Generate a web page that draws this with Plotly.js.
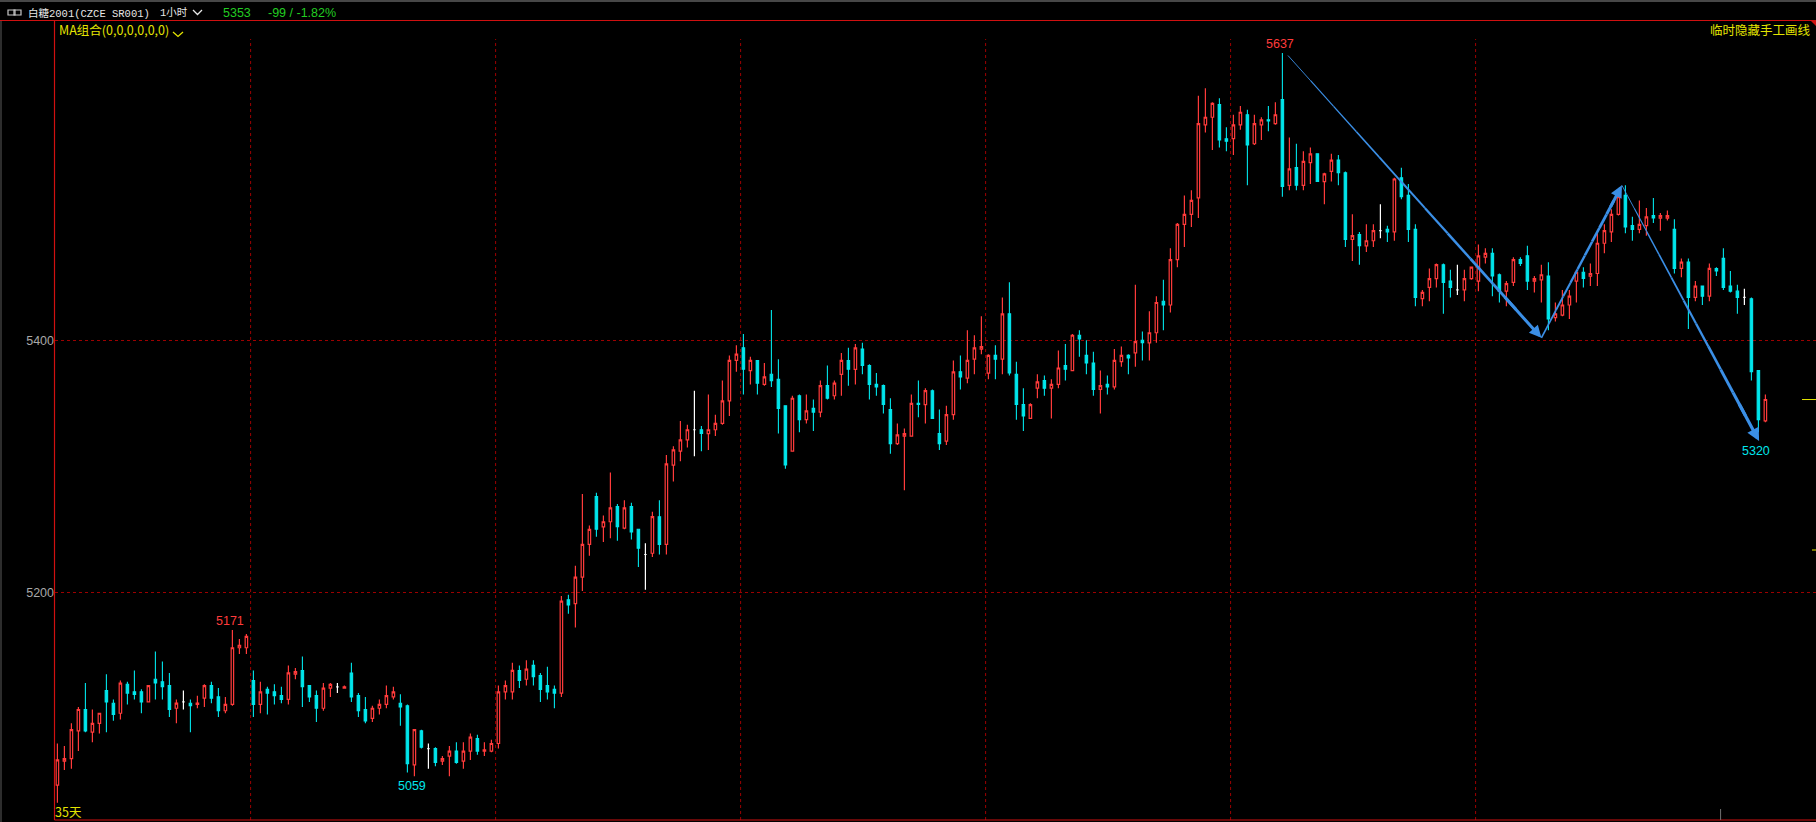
<!DOCTYPE html>
<html><head><meta charset="utf-8">
<script src="https://cdn.plot.ly/plotly-3.0.1.min.js"></script>
<style>html,body{margin:0;padding:0;background:#000;overflow:hidden;}#chart{width:1816px;height:822px;}</style>
</head><body><div id="chart"></div>
<script>
// ---- data (1-hour bars, 白糖2001) ----
const openP = [5047,5066,5068,5090,5107,5089,5096,5122,5112,5104,
5127,5121,5121,5113,5131,5129,5126,5108,5113,5112,
5111,5116,5126,5117,5106,5111,5156,5156,5130,5111,
5123,5121,5118,5115,5135,5138,5126,5118,5108,5124,
5125,5124,5136,5118,5107,5100,5108,5111,5117,5112,
5110,5063,5090,5076,5076,5066,5070,5074,5066,5074,
5084,5074,5074,5080,5121,5121,5138,5131,5142,5134,
5126,5123,5120,5194,5191,5212,5238,5276,5252,5256,
5268,5251,5268,5250,5230,5231,5260,5238,5301,5312,
5321,5329,5329,5326,5329,5334,5352,5384,5394,5376,
5384,5365,5373,5369,5348,5312,5356,5337,5346,5343,
5364,5356,5373,5384,5377,5393,5380,5365,5364,5345,
5318,5324,5324,5350,5349,5360,5326,5320,5341,5375,
5370,5385,5393,5374,5388,5385,5421,5373,5349,5338,
5362,5368,5362,5365,5380,5376,5404,5388,5382,5361,
5365,5363,5383,5388,5390,5400,5398,5406,5431,5428,
5464,5492,5500,5513,5571,5577,5587,5560,5560,5571,
5579,5556,5571,5575,5572,5591,5523,5537,5523,5541,
5548,5526,5534,5543,5533,5480,5484,5475,5479,5487,
5488,5486,5529,5515,5488,5433,5442,5449,5460,5447,
5440,5440,5449,5447,5466,5469,5452,5439,5446,5464,
5467,5447,5448,5451,5418,5420,5428,5447,5454,5451,
5453,5477,5486,5500,5515,5491,5488,5491,5499,5497,
5497,5488,5457,5462,5434,5443,5435,5457,5465,5443,
5439,5434,5433,5376,5336];
const highP = [5080,5078,5096,5109,5128,5107,5104,5135,5115,5130,
5129,5138,5123,5126,5153,5145,5136,5115,5122,5115,
5118,5127,5129,5124,5117,5170,5163,5167,5138,5129,
5125,5127,5125,5142,5140,5149,5126,5122,5128,5128,
5128,5126,5144,5120,5117,5110,5115,5126,5125,5119,
5111,5091,5091,5080,5077,5070,5078,5081,5081,5088,
5087,5081,5083,5126,5130,5144,5142,5146,5146,5136,
5141,5126,5197,5198,5221,5278,5253,5279,5261,5295,
5270,5273,5271,5250,5239,5264,5273,5309,5316,5336,
5333,5360,5332,5357,5341,5368,5388,5396,5405,5387,
5384,5382,5424,5385,5348,5356,5357,5357,5353,5368,
5380,5368,5390,5394,5397,5398,5381,5374,5365,5354,
5334,5330,5357,5368,5362,5361,5345,5348,5384,5388,
5408,5404,5419,5389,5396,5434,5446,5383,5362,5350,
5373,5372,5369,5392,5397,5405,5408,5400,5391,5376,
5372,5393,5395,5389,5444,5407,5423,5435,5448,5473,
5493,5515,5519,5594,5600,5589,5592,5569,5579,5586,
5583,5579,5577,5586,5589,5628,5561,5556,5550,5553,
5548,5533,5548,5547,5534,5500,5486,5492,5492,5508,
5491,5529,5537,5524,5492,5440,5457,5461,5461,5456,
5460,5456,5458,5476,5473,5473,5453,5447,5466,5466,
5475,5451,5460,5462,5430,5440,5440,5456,5458,5461,
5485,5492,5504,5519,5523,5498,5511,5505,5513,5501,
5503,5496,5465,5465,5447,5443,5461,5458,5473,5455,
5444,5441,5434,5376,5357];
const lowP = [5033,5059,5060,5074,5089,5081,5088,5089,5098,5099,
5111,5115,5104,5113,5115,5115,5101,5096,5107,5089,
5108,5109,5112,5101,5104,5110,5151,5151,5101,5104,
5103,5111,5112,5111,5131,5109,5113,5097,5106,5117,
5120,5124,5113,5101,5096,5097,5103,5108,5115,5094,
5057,5054,5076,5060,5062,5063,5054,5064,5060,5067,
5071,5070,5073,5076,5115,5115,5124,5126,5126,5113,
5115,5108,5117,5183,5172,5201,5229,5244,5240,5243,
5241,5250,5242,5220,5202,5228,5230,5230,5288,5304,
5315,5308,5312,5313,5324,5333,5340,5375,5357,5365,
5357,5364,5363,5326,5298,5312,5327,5334,5328,5339,
5353,5353,5356,5364,5365,5373,5353,5356,5342,5310,
5317,5281,5324,5339,5334,5338,5313,5317,5337,5361,
5366,5373,5389,5369,5369,5373,5372,5337,5328,5338,
5354,5356,5338,5362,5368,5376,5387,5373,5356,5342,
5357,5361,5379,5373,5379,5384,5384,5398,5408,5422,
5458,5474,5490,5497,5565,5551,5553,5550,5547,5567,
5523,5555,5559,5566,5571,5514,5519,5519,5519,5524,
5526,5508,5526,5523,5474,5463,5460,5470,5474,5481,
5478,5479,5512,5478,5427,5427,5431,5442,5421,5434,
5436,5431,5448,5439,5461,5435,5430,5427,5443,5459,
5440,5438,5430,5408,5415,5419,5417,5430,5442,5443,
5443,5469,5478,5499,5485,5479,5485,5483,5493,5487,
5495,5453,5450,5409,5431,5428,5431,5451,5440,5438,
5421,5428,5368,5327,5335];
const closeP = [5067,5068,5091,5107,5090,5096,5104,5113,5103,5128,
5120,5119,5113,5126,5128,5125,5107,5112,5113,5110,
5112,5126,5116,5106,5111,5156,5158,5165,5111,5121,
5120,5118,5115,5136,5137,5125,5117,5108,5124,5127,
5125,5125,5117,5106,5098,5108,5111,5118,5121,5109,
5064,5091,5077,5076,5065,5068,5074,5065,5074,5085,
5074,5075,5080,5121,5126,5138,5130,5139,5133,5123,
5121,5120,5193,5190,5212,5238,5250,5250,5256,5267,
5252,5267,5248,5235,5230,5260,5238,5302,5313,5321,
5329,5329,5326,5329,5334,5352,5384,5389,5377,5384,
5366,5371,5368,5346,5301,5354,5337,5344,5343,5364,
5354,5366,5384,5377,5394,5380,5365,5363,5349,5318,
5325,5326,5350,5349,5360,5338,5318,5341,5375,5371,
5384,5394,5395,5388,5385,5421,5374,5349,5340,5349,
5367,5362,5365,5378,5377,5404,5401,5382,5361,5364,
5363,5384,5388,5386,5399,5398,5406,5430,5428,5464,
5492,5500,5511,5572,5577,5588,5559,5558,5571,5581,
5555,5572,5575,5574,5579,5522,5536,5523,5542,5548,
5526,5532,5543,5533,5480,5483,5475,5479,5487,5487,
5486,5528,5514,5488,5434,5438,5449,5460,5446,5442,
5440,5449,5458,5467,5469,5451,5439,5445,5464,5461,
5447,5449,5452,5417,5421,5428,5435,5454,5449,5453,
5477,5487,5500,5514,5490,5488,5492,5498,5497,5499,
5499,5457,5462,5434,5443,5435,5457,5455,5442,5439,
5434,5434,5375,5337,5353];

const yTicks = [5200, 5400];
const yTickText = ['5200', '5400'];
const dayBreaks = [27.6, 62.6, 97.6, 132.6, 167.6, 202.6];
// hand-drawn trend arrows (bar index, price)
const trendX = [175.8, 212.0, 223.5, 243.1];
const trendY = [5626, 5402, 5523, 5320];
// high/low markers
const markIdx = [175, 25, 51];
const markText = ['5637', '5171', '5059'];
const markSide = ['high', 'high', 'low'];
const endText = '5320';

const headerName = '白糖2001(CZCE SR001)';
const headerPeriod = '1小时';
const headerLast = '5353';
const headerChg = '-99 / -1.82%';

// ---- styling ----
const RED = '#ff3b3b', CYAN = '#00e6ec', WHITE = '#ffffff', BLUE = '#3b8fe6';
const GRID = '#9c0000', YEL = '#e4e400', GREEN = '#22cc22';
const W = 1816, H = 822, ML = 55, MT = 21, MB = 2;
const PW = W - ML, PH = H - MT - MB;
const px = x => (x - ML) / PW;
const py = y => (H - MB - y) / PH;

function subset(test) {
  const r = {x: [], open: [], high: [], low: [], close: []};
  openP.forEach((o, i) => {
    if (test(i)) { r.x.push(i); r.open.push(o); r.high.push(highP[i]); r.low.push(lowP[i]); r.close.push(closeP[i]); }
  });
  return r;
}
function cs(d, col, fill, w) {
  return Object.assign({type: 'candlestick', whiskerwidth: 0, hoverinfo: 'skip', showlegend: false,
    increasing: {line: {color: col, width: w}, fillcolor: fill},
    decreasing: {line: {color: col, width: w}, fillcolor: fill}}, d);
}
const traces = [
  cs(subset(i => closeP[i] === openP[i]), WHITE, WHITE, 1.2),
  cs(subset(i => closeP[i] > openP[i]), RED, '#000000', 1.2),
  cs(subset(i => closeP[i] < openP[i]), CYAN, CYAN, 1.1)
];

const shapes = [];
const annotations = [];

// frame lines
shapes.push({type:'line', xref:'paper', yref:'paper', x0:px(0), x1:px(W), y0:py(20.5), y1:py(20.5), line:{color:'#d01010', width:1.2}});
shapes.push({type:'line', xref:'paper', yref:'paper', x0:px(54.5), x1:px(54.5), y0:py(20.5), y1:py(820), line:{color:'#d01010', width:1.2}});
shapes.push({type:'line', xref:'paper', yref:'paper', x0:px(54.5), x1:px(W), y0:py(820), y1:py(820), line:{color:'#d01010', width:1.2}});
shapes.push({type:'rect', xref:'paper', yref:'paper', x0:px(0), x1:px(W), y0:py(0), y1:py(2), line:{width:0}, fillcolor:'#474747'});
shapes.push({type:'line', xref:'paper', yref:'paper', x0:px(1), x1:px(1), y0:py(21), y1:py(822), line:{color:'#5a5a5a', width:1}});
shapes.push({type:'path', xref:'paper', yref:'paper', path:`M${px(1811)},${py(21)} L${px(1816)},${py(21)} L${px(1816)},${py(26)} Z`, fillcolor:'#d01010', line:{width:0}});
// vertical day separators
dayBreaks.forEach(d => shapes.push({type:'line', xref:'x', yref:'paper', x0:d, x1:d, y0:0, y1:py(39), layer:'below', line:{color:GRID, width:1, dash:'3px,3px'}}));
shapes.push({type:'line', xref:'x', yref:'paper', x0:237.6, x1:237.6, y0:0, y1:py(809), line:{color:'#707070', width:1}});
// last price marks on right
shapes.push({type:'line', xref:'paper', yref:'y', x0:px(1802), x1:px(1816), y0:closeP[closeP.length-1], y1:closeP[closeP.length-1], line:{color:YEL, width:1}});
shapes.push({type:'line', xref:'paper', yref:'paper', x0:px(1812), x1:px(1816), y0:py(550), y1:py(550), line:{color:YEL, width:1}});
// header icon and chevrons
shapes.push({type:'rect', xref:'paper', yref:'paper', x0:px(8), x1:px(15), y0:py(15), y1:py(10), line:{color:'#c8c8c8', width:1.2}});
shapes.push({type:'rect', xref:'paper', yref:'paper', x0:px(14), x1:px(21), y0:py(15), y1:py(10), line:{color:'#c8c8c8', width:1.2}});
shapes.push({type:'path', xref:'paper', yref:'paper', path:`M${px(193)},${py(10)} L${px(197.5)},${py(14.5)} L${px(202)},${py(10)}`, line:{color:'#e8e8e8', width:1.3}});
shapes.push({type:'path', xref:'paper', yref:'paper', path:`M${px(173)},${py(32)} L${px(178)},${py(36.5)} L${px(183)},${py(32)}`, line:{color:YEL, width:1.3}});

// trend arrows, tapered
const wStart = [0.8, 1.6, 0.8], wEnd = [3.0, 3.0, 3.2];
for (let k = 0; k < trendX.length - 1; k++) {
  const x0 = trendX[k], y0 = trendY[k], x1 = trendX[k+1], y1 = trendY[k+1];
  const N = 10, stop = 0.9;
  for (let s = 0; s < N; s++) {
    const t0 = stop * s / N, t1 = stop * (s + 1) / N;
    const w = wStart[k] + (wEnd[k] - wStart[k]) * (s + 0.5) / N;
    shapes.push({type:'line', xref:'x', yref:'y', x0:x0+(x1-x0)*t0, y0:y0+(y1-y0)*t0, x1:x0+(x1-x0)*t1, y1:y0+(y1-y0)*t1, line:{color:BLUE, width:w}});
  }
  annotations.push({xref:'x', yref:'y', axref:'x', ayref:'y', x:x1, y:y1, ax:x0+(x1-x0)*0.85, ay:y0+(y1-y0)*0.85, text:'', showarrow:true, arrowhead:2, arrowsize:0.8, arrowwidth:wEnd[k], arrowcolor:BLUE, standoff:0});
}

const NUMFONT = 'Liberation Sans, Arial, sans-serif';
const CJK = 'Noto Sans CJK SC, sans-serif';
const MONO = 'Liberation Mono, Noto Sans CJK SC, monospace';
markIdx.forEach((i, k) => {
  const hi = markSide[k] === 'high';
  annotations.push({xref:'x', yref:'y', x:i - 0.3, y: hi ? highP[i] : lowP[i], text: markText[k], showarrow:false,
    xanchor:'center', yanchor: hi ? 'bottom' : 'top', yshift: hi ? 0 : -1,
    font:{family:NUMFONT, size:12.5, color: hi ? RED : CYAN}});
});
annotations.push({xref:'x', yref:'y', x:trendX[3] - 0.4, y:trendY[3], text:endText, showarrow:false, xanchor:'center', yanchor:'top', yshift:-1, font:{family:NUMFONT, size:12.5, color:CYAN}});

function T(text, x, y, color, size, xanchor, family) {
  annotations.push({xref:'paper', yref:'paper', x:px(x), y:py(y), text, showarrow:false, xanchor: xanchor || 'left', yanchor:'middle',
    font:{family: family || CJK, size: size || 13, color}});
}
T(headerName, 26, 13, '#e6e6e6', 10.5, 'left', MONO);
T(headerPeriod, 158, 13, '#e6e6e6', 10.5, 'left', MONO);
T(headerLast, 221, 13, GREEN, 12.5, 'left', NUMFONT);
T(headerChg, 266, 13, GREEN, 12.5, 'left', NUMFONT);
T('MA组合(0,0,0,0,0,0)', 57, 30, YEL, 12.5);
T('临时隐藏手工画线', 1813, 30, YEL, 12.5, 'right');
T('35天', 53, 811, YEL, 12.5);

const layout = {
  width: W, height: H,
  margin: {l: ML, r: 0, t: MT, b: MB, autoexpand: false},
  paper_bgcolor: '#000', plot_bgcolor: '#000',
  showlegend: false, boxgap: 0.5, dragmode: false,
  xaxis: {type: 'linear', range: [-0.343, 251.23], showgrid: false, zeroline: false, showticklabels: false, ticks: '', showline: false, rangeslider: {visible: false}, fixedrange: true},
  yaxis: {range: [5019.3, 5653.4], tickvals: yTicks, ticktext: yTickText, showgrid: true, gridcolor: GRID, griddash: '3px,3px', gridwidth: 1,
    zeroline: false, showline: false, ticks: '', tickfont: {family: NUMFONT, size: 12.5, color: '#a8a8a8'}, fixedrange: true},
  shapes, annotations
};
Plotly.newPlot('chart', traces, layout, {staticPlot: true, displayModeBar: false});
</script>
</body></html>
